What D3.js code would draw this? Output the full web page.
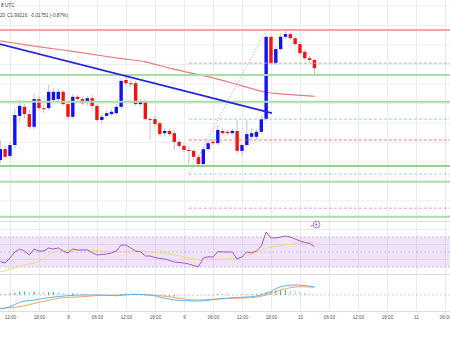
<!DOCTYPE html>
<html><head><meta charset="utf-8">
<script src="https://cdn.jsdelivr.net/npm/d3@7"></script>
<style>html,body{margin:0;padding:0;background:#fff;overflow:hidden}svg{display:block;font-family:"Liberation Sans",Arial,sans-serif}</style>
</head><body><svg id="c" width="450" height="338"></svg>
<script>
// ---- data (hourly candles, index 0 = day 7 10:00 UTC) ----
const opens  = [1.790,1.814,1.799,1.823,1.887,1.907,1.891,1.863,1.924,1.904,1.904,1.922,1.924,1.940,1.913,1.885,1.929,1.924,1.918,1.926,1.909,1.878,1.887,1.891,1.893,1.907,1.966,1.959,1.959,1.913,1.918,1.880,1.880,1.871,1.849,1.854,1.849,1.830,1.821,1.812,1.810,1.797,1.781,1.814,1.830,1.827,1.854,1.852,1.849,1.854,1.810,1.823,1.841,1.841,1.852,1.880,2.061,2.003,2.034,2.061,2.067,2.058,2.045,2.028,2.014,2.010];
const highs  = [1.834,1.821,1.830,1.904,1.922,1.913,1.900,1.937,1.931,1.913,1.955,1.948,1.946,1.944,1.920,1.935,1.933,1.929,1.931,1.933,1.913,1.889,1.900,1.902,1.913,1.970,1.975,1.968,1.964,1.924,1.922,1.885,1.887,1.876,1.860,1.858,1.854,1.836,1.827,1.819,1.814,1.801,1.819,1.832,1.834,1.867,1.860,1.856,1.858,1.878,1.827,1.878,1.860,1.858,1.887,2.065,2.065,2.041,2.069,2.074,2.072,2.063,2.050,2.032,2.019,2.014];
const lows   = [1.783,1.792,1.792,1.816,1.874,1.882,1.858,1.858,1.900,1.893,1.900,1.918,1.920,1.909,1.880,1.880,1.920,1.911,1.909,1.900,1.874,1.871,1.882,1.887,1.889,1.902,1.953,1.951,1.909,1.907,1.876,1.834,1.863,1.843,1.841,1.843,1.812,1.816,1.808,1.777,1.790,1.775,1.777,1.810,1.823,1.823,1.845,1.845,1.845,1.805,1.801,1.819,1.836,1.836,1.847,1.876,1.999,1.999,2.030,2.056,2.054,2.041,2.021,2.010,2.006,1.977];
const closes = [1.814,1.797,1.823,1.889,1.909,1.891,1.863,1.924,1.904,1.902,1.940,1.940,1.940,1.913,1.885,1.929,1.924,1.915,1.926,1.909,1.878,1.885,1.893,1.896,1.907,1.964,1.959,1.957,1.913,1.918,1.880,1.878,1.869,1.847,1.854,1.847,1.830,1.821,1.812,1.810,1.797,1.781,1.814,1.827,1.827,1.856,1.849,1.849,1.854,1.810,1.823,1.847,1.849,1.852,1.880,2.061,2.003,2.034,2.061,2.067,2.058,2.045,2.025,2.014,2.010,1.992];

const maIdx = [0,5,10,15,20,25,30,35,40,45,50,55,60,65];
const maVal = [2.052,2.044,2.036,2.029,2.021,2.013,2.006,1.992,1.980,1.968,1.953,1.939,1.934,1.930];

const trendIdx = [-0.5,56.2];
const trendVal = [2.046,1.893];

const resistance = [2.076];
const supportLevels = [1.977,1.918,1.777,1.742,1.665];

const fibStartIdx = 39;
const fibLevels = [2.003,1.880,1.834,1.759,1.684];
const diagIdx = [39,55];
const diagVal = [1.759,2.076];

const priceGrid = [2.129,2.086,2.043,2.000,1.957,1.914,1.871,1.829,1.786,1.743,1.700];

const rsi = [37.1,35.3,42,50,54,51.3,46,54,51.3,51.3,55.3,54,55.3,51.3,48.7,54,52.7,52.7,52.7,49.3,46,46.7,47.3,48.7,51.3,59.3,59.3,55.3,51.3,50.4,44.7,44.7,42.7,41.3,40.7,38.7,36.7,36,35.3,34,32,30.4,42,43.7,43.3,50.4,50,50,50,40.7,43.7,50,48.7,51.3,58,76.7,68.7,68.7,70,71.3,70,67.3,64.7,62.7,61.3,57.3];
const rsiMaIdx = [0,3,5,8,10,12,14,17,21,24,28,31,35,38,41,45,48,52,55,59,62,65];
const rsiMaVal = [23.7,28.7,32.7,37.1,46,51.3,51.3,52.7,51.3,50.4,51.3,50.4,47.3,43.7,40.3,40.3,41.6,46.9,54.9,59.3,61.6,63.3];

const macdIdx = [0,2,4,7,10,14,17,21,24,27,31,34,38,41,45,48,52,54,56,58,61,65];
const macdVal = [-0.014,-0.0117,-0.0073,-0.005,-0.0027,-0.0007,0,0,-0.0007,0.0007,0,-0.0033,-0.0057,-0.006,-0.004,-0.0027,-0.0017,0,0.0033,0.0083,0.010,0.0083];
const signalIdx = [0,4,8,12,17,21,25,28,31,35,38,41,45,48,52,55,58,62,65];
const signalVal = [-0.0133,-0.0117,-0.0073,-0.0033,-0.0017,-0.0003,0,0.0007,0,-0.0017,-0.004,-0.005,-0.004,-0.0033,-0.0027,0,0.005,0.0083,0.0077];
const hist = [0.0005,0.001,0.0015,0.0025,0.0035,0.0035,0.003,0.0035,0.003,0.0028,
 0.003,0.003,0.0028,0.0022,0.0015,0.0018,0.0015,0.0013,0.0011,0.0006,
 0.0002,0.0001,0,0.0001,0.0003,0.001,0.0012,0.001,0.0005,0.0003,
 -0.0005,-0.0007,-0.001,-0.0012,-0.0013,-0.0014,-0.0015,-0.0015,-0.0015,-0.0014,
 -0.0013,-0.0012,-0.0004,0.0002,0.0003,0.0008,0.0008,0.0008,0.0007,0.0003,
 0.0004,0.0008,0.0009,0.001,0.0015,0.003,0.0035,0.0045,0.005,0.0052,
 0.005,0.0045,0.003,0.002,0.0012,0.0006];

const tickIdx = [2,8,14,20,26,32,38,44,50,56,62,68,74,80,86,92];
const tickLabels = ["12:00","18:00","8","06:00","12:00","18:00","9","06:00","12:00","18:00","10","06:00","12:00","18:00","11","06:00"];

const headerTop = "8 UTC";
const headerVals = ["20","C1.99216","-0.01751 (-0.87%)"];

// ---- drawing ----
const svg = d3.select("#c");
svg.append("rect").attr("width",450).attr("height",338).attr("fill","#fff");

const x = d3.scaleLinear().domain([0,93]).range([0.3,449.8]);
const y = d3.scaleLinear().domain([1.6558,2.142]).range([221,0]);
const ry = d3.scaleLinear().domain([30,70]).range([267,237]);
const my = d3.scaleLinear().domain([-0.016,0.020]).range([311,275]);

const defs = svg.append("defs");
defs.append("clipPath").attr("id","cm").append("rect").attr("x",0).attr("y",0).attr("width",450).attr("height",221);
defs.append("clipPath").attr("id","cr").append("rect").attr("x",0).attr("y",222).attr("width",450).attr("height",52);
defs.append("clipPath").attr("id","cd").append("rect").attr("x",0).attr("y",275).attr("width",450).attr("height",36);

// x axis + vertical grid
const ax = svg.append("g").attr("transform","translate(0,312)")
  .call(d3.axisBottom(x).tickValues(tickIdx).tickFormat((d,i)=>tickLabels[i]).tickSize(-312).tickPadding(3.5));
ax.select(".domain").remove();
ax.selectAll(".tick line").attr("stroke","#ececec").attr("stroke-width",1);
ax.selectAll(".tick text").attr("font-size",4.6).attr("fill","#555").attr("font-family","Liberation Sans, Arial, sans-serif");

// horizontal grid main
const main = svg.append("g").attr("clip-path","url(#cm)");
main.selectAll("line.hg").data(priceGrid).join("line").attr("class","hg")
  .attr("x1",0).attr("x2",450).attr("y1",d=>y(d)).attr("y2",d=>y(d))
  .attr("stroke","#ededed").attr("stroke-width",1);

// pane separators
[221.5,274.5,311.5].forEach(v=>svg.append("line").attr("x1",0).attr("x2",450).attr("y1",v).attr("y2",v).attr("stroke","#dedede").attr("stroke-width",1));

// MA (red)
const lineIdx = (idx,vals,ys)=>d3.line().x((d,i)=>x(idx[i])).y((d,i)=>ys(vals[i])).curve(d3.curveMonotoneX)(vals);
main.append("path").attr("d",lineIdx(maIdx,maVal,y)).attr("fill","none").attr("stroke","#f07a7a").attr("stroke-width",1.2);

// candles
const cw = 3.4;
const cand = main.append("g");
opens.forEach((o,i)=>{
  const c = closes[i], up = c>=o;
  const col = up ? "#1212f5" : "#f51212";
  const cx = x(i);
  cand.append("line").attr("x1",cx).attr("x2",cx).attr("y1",y(highs[i])).attr("y2",y(lows[i]))
    .attr("stroke","#b8b8b8").attr("stroke-width",0.8);
  const top = y(Math.max(o,c)), bot = y(Math.min(o,c));
  cand.append("rect").attr("x",cx-cw/2).attr("y",top).attr("width",cw).attr("height",Math.max(1,bot-top))
    .attr("fill",col);
});

// fib levels
const fibColors = ["#f39a9a","#8fd6c8","#f27b7b","#9bcfee","#d59af0"];
fibLevels.forEach((p,k)=>{
  main.append("line").attr("x1",x(fibStartIdx)).attr("x2",450).attr("y1",y(p)).attr("y2",y(p))
    .attr("stroke",fibColors[k]).attr("stroke-width",1).attr("stroke-dasharray","3,2");
});
main.append("line").attr("x1",x(diagIdx[0])).attr("y1",y(diagVal[0])).attr("x2",x(diagIdx[1])).attr("y2",y(diagVal[1]))
  .attr("stroke","#b5b5b5").attr("stroke-width",0.9).attr("stroke-dasharray","1.5,1.5");

// horizontal lines
resistance.forEach(p=>main.append("line").attr("x1",0).attr("x2",450).attr("y1",y(p)).attr("y2",y(p))
  .attr("stroke","#f5a3a3").attr("stroke-width",2));
supportLevels.forEach((p,k)=>main.append("line").attr("x1",0).attr("x2",450).attr("y1",y(p)).attr("y2",y(p))
  .attr("stroke",k===2?"#6cc46c":"#a8dca8").attr("stroke-width",k===2?1.5:2));

// trend line
main.append("line").attr("x1",x(trendIdx[0])).attr("y1",y(trendVal[0])).attr("x2",x(trendIdx[1])).attr("y2",y(trendVal[1]))
  .attr("stroke","#2626dc").attr("stroke-width",1.8);

// header
svg.append("text").attr("x",1).attr("y",7.2).attr("font-size",4.7).attr("fill","#444").text(headerTop);
const hx = [0,7,30];
headerVals.forEach((t,k)=>svg.append("text").attr("x",hx[k]).attr("y",17.4).attr("font-size",4.7).attr("fill","#444").text(t));

// RSI pane
const rp = svg.append("g").attr("clip-path","url(#cr)");
[40,60,80].forEach(v=>rp.append("line").attr("x1",0).attr("x2",450).attr("y1",ry(v)).attr("y2",ry(v)).attr("stroke","#ececec"));
rp.append("rect").attr("x",0).attr("y",ry(70)).attr("width",450).attr("height",ry(30)-ry(70)).attr("fill","rgba(160,90,230,0.16)");
[70,50,30].forEach(v=>rp.append("line").attr("x1",0).attr("x2",450).attr("y1",ry(v)).attr("y2",ry(v))
  .attr("stroke","#bfaed2").attr("stroke-width",0.8).attr("stroke-dasharray","2,2"));
rp.append("path").attr("d",lineIdx(rsiMaIdx,rsiMaVal,ry)).attr("fill","none").attr("stroke","#f6d97c").attr("stroke-width",1);
rp.append("path").attr("d",d3.line().x((d,i)=>x(i)).y(d=>ry(d))(rsi)).attr("fill","none").attr("stroke","#a857c4").attr("stroke-width",1);

// MACD pane
const mp = svg.append("g").attr("clip-path","url(#cd)");
mp.append("line").attr("x1",0).attr("x2",450).attr("y1",my(0)).attr("y2",my(0)).attr("stroke","#c8c8c8").attr("stroke-width",0.8).attr("stroke-dasharray","2,2");
hist.forEach((h,i)=>{
  const prev = i>0?hist[i-1]:0;
  const col = h>=0 ? (h>=prev?"#4fb8ad":"#a6dcd6") : (h<prev?"#f47c7c":"#f9c3c3");
  mp.append("rect").attr("x",x(i)-0.6).attr("width",1.2)
    .attr("y",Math.min(my(h),my(0))).attr("height",Math.max(0.5,Math.abs(my(h)-my(0)))).attr("fill",col);
});
mp.append("path").attr("d",lineIdx(signalIdx,signalVal,my)).attr("fill","none").attr("stroke","#f6a464").attr("stroke-width",1);
mp.append("path").attr("d",lineIdx(macdIdx,macdVal,my)).attr("fill","none").attr("stroke","#5db3f0").attr("stroke-width",1);

// small replay icon
const ic = svg.append("g").attr("transform","translate(316.5,224.5)");
ic.append("circle").attr("r",3.4).attr("fill","none").attr("stroke","#b04fd8").attr("stroke-width",0.8);
ic.append("path").attr("d","M-1.2,-1.5 L1.3,0 L-1.2,1.5 Z").attr("fill","#b04fd8");
ic.append("path").attr("d","M-6,1.3 L-3.8,1.3").attr("stroke","#5a6ae0").attr("stroke-width",0.8);
</script></body></html>
